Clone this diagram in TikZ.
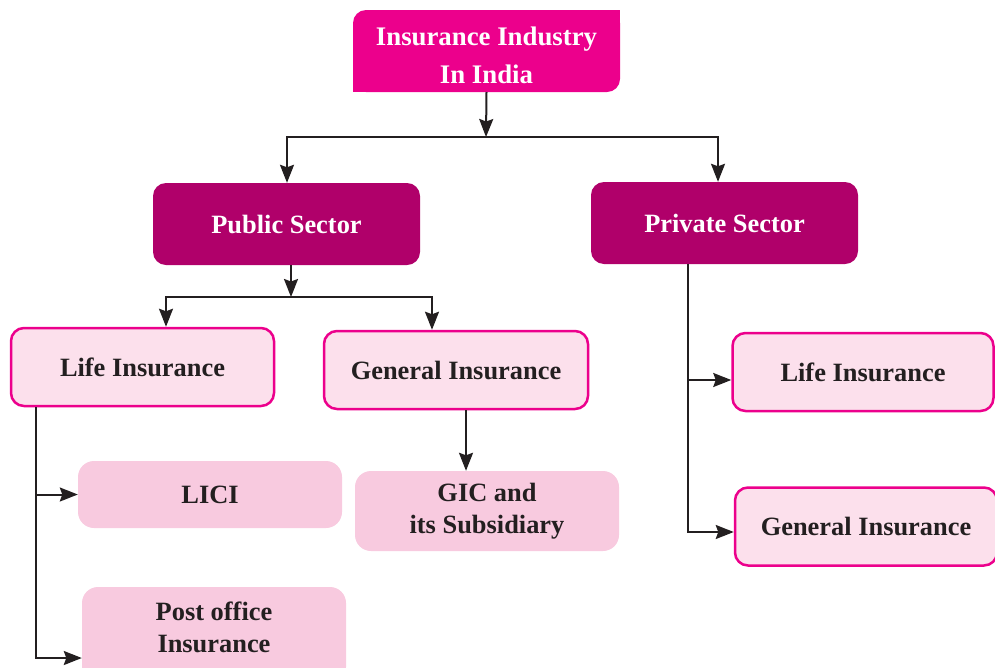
\documentclass[tikz,border=0pt]{standalone}
\usepackage{fontspec}
\setmainfont{Liberation Serif}
\usetikzlibrary{arrows.meta}
\definecolor{magTop}{HTML}{EC008C}
\definecolor{magDark}{HTML}{B0006A}
\definecolor{pinkLight}{HTML}{FCE0EC}
\definecolor{pinkMid}{HTML}{F8CADF}
\definecolor{inkDark}{HTML}{231F20}
\begin{document}
\begin{tikzpicture}[x=1pt,y=-1pt,
  txt/.style={font=\fontsize{26.4}{32}\selectfont\bfseries, align=center, text=inkDark, inner sep=0pt, anchor=center},
  topbox/.style={txt, font=\fontsize{26.8}{38}\selectfont\bfseries, text=white, minimum width=267pt, minimum height=82pt},
  darkbox/.style={txt, text=white, fill=magDark, rounded corners=13pt, minimum width=267pt, minimum height=82pt},
  lightbox/.style={txt, fill=pinkLight, draw=magTop, line width=2.5pt, rounded corners=13pt, minimum height=78pt},
  midbox/.style={txt, fill=pinkMid, rounded corners=16pt},
  conn/.style={draw=inkDark, line width=2pt},
  arr/.style={conn, -{Stealth[length=18pt,width=14pt,inset=2.5pt]}}
]
\useasboundingbox (0,0) rectangle (995,667);
\clip (0,0) rectangle (995,667);
% top box shape (rounded top-left and bottom-right only)
\fill[magTop, rounded corners=13pt] (353,10) rectangle (620,92);
\fill[magTop] (605,10) rectangle (620,25);
\fill[magTop] (353,77) rectangle (368,92);
\node[topbox] (top) at (486.5,55) {Insurance Industry\\In India};

\node[darkbox] (pub) at (286.5,224) {Public Sector};
\node[darkbox] (priv) at (724.5,223) {Private Sector};

\node[lightbox, minimum width=263pt] (pli) at (142.5,367) {Life Insurance};
\node[lightbox, minimum width=264pt] (pgen) at (456,370) {General Insurance};
\node[lightbox, minimum width=261pt] (vli) at (863,372) {Life Insurance};
\node[lightbox, minimum width=262pt] (vgen) at (866,526.5) {General Insurance};

\node[midbox, minimum width=264pt, minimum height=67pt] (lici) at (210,494.5) {LICI};
\node[midbox, minimum width=264pt, minimum height=80pt] (gic) at (487,511) {GIC and\\its Subsidiary};
\node[midbox, minimum width=264pt, minimum height=96pt] (post) at (214,635) {Post office\\Insurance\\[-16pt]\mbox{}};

% connectors
\coordinate (j1) at (486,137);
\draw[arr] (top.south |- 0,92) -- (j1);
\draw[arr] (j1) -| ([xshift=0.5pt]pub.north);
\draw[arr] (j1) -| ([xshift=-6.5pt]priv.north);

\coordinate (j2) at (291,297);
\draw[arr] ([xshift=4.5pt]pub.south) -- (j2);
\draw[arr] (j2) -| ([xshift=23.5pt]pli.north);
\draw[arr] (j2) -| ([xshift=-24pt]pgen.north);

\draw[arr] ([xshift=10pt]pgen.south) -- ([xshift=10pt]pgen.south |- gic.north);

\draw[arr] ([xshift=26pt]pli.south west) |- (lici.west);
\draw[arr] ([xshift=26pt]pli.south west) |- ([yshift=-23pt]post.west);

\draw[arr] ([xshift=-36.5pt]priv.south) |- ([yshift=-8pt]vli.west);
\draw[arr] ([xshift=-36.5pt]priv.south) |- ([yshift=-5.5pt]vgen.west);
\end{tikzpicture}
\end{document}
